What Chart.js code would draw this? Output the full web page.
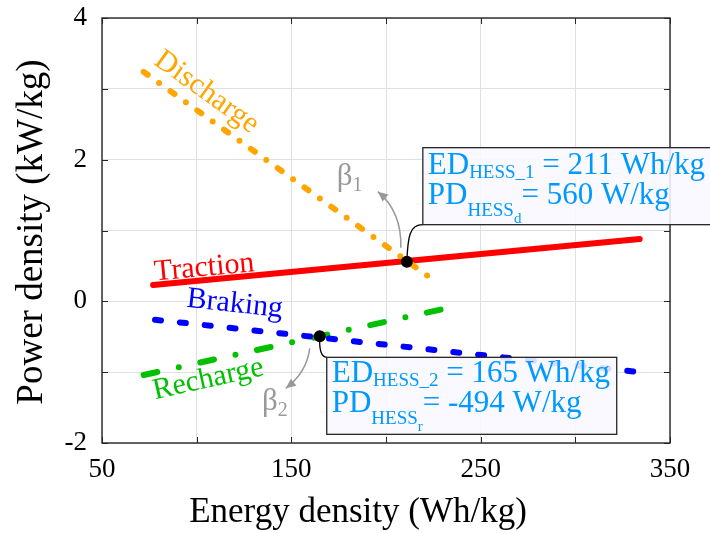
<!DOCTYPE html>
<html>
<head>
<meta charset="utf-8">
<script src="https://cdn.jsdelivr.net/npm/chart.js@4.4.1/dist/chart.umd.min.js"></script>
<style>
  html, body { margin: 0; padding: 0; background: #fff; }
</style>
</head>
<body>
<canvas id="chart" width="710" height="533"></canvas>
<script>
// line end points (x: Wh/kg, y: kW/kg)
const tractionX = [77, 334];
const tractionY = [0.23, 0.88];
const dischargeX = [72, 224];
const dischargeY = [3.24, 0.32];
const brakingX = [78, 334];
const brakingY = [-0.26, -1.0];
const rechargeX = [72, 230];
const rechargeY = [-1.04, -0.11];

// HESS operating points
const opX = [211, 165];
const opY = [0.56, -0.494];

const xTickLabels = [50, 150, 250, 350];
const yTickLabels = [-2, 0, 2, 4];

const SERIF = "'Liberation Serif', 'Times New Roman', serif";
const INK = '#262626';
const NOTE = '#0099ff';
const GREY = '#999999';

function pts(xs, ys) {
    return xs.map((x, i) => ({ x: x, y: ys[i] }));
}

function lineAngle(sx, sy, xs, ys) {
    const dx = sx.getPixelForValue(xs[1]) - sx.getPixelForValue(xs[0]);
    const dy = sy.getPixelForValue(ys[1]) - sy.getPixelForValue(ys[0]);
    return Math.atan2(dy, dx);
}

// text runs with sub/superscripts
function runs(c, x, y, parts) {
    for (const p of parts) {
        c.font = p.s + 'px ' + SERIF;
        c.fillText(p.t, x, y + (p.dy || 0));
        x += c.measureText(p.t).width;
    }
}

function arrow(c, x0, y0, cx, cy, x1, y1) {
    c.beginPath();
    c.moveTo(x0, y0);
    c.quadraticCurveTo(cx, cy, x1, y1);
    c.stroke();
    const ang = Math.atan2(y1 - cy, x1 - cx);
    const len = 10, half = 4.5;
    c.beginPath();
    c.moveTo(x1, y1);
    c.lineTo(x1 - len * Math.cos(ang) + half * Math.sin(ang), y1 - len * Math.sin(ang) - half * Math.cos(ang));
    c.lineTo(x1 - len * Math.cos(ang) - half * Math.sin(ang), y1 - len * Math.sin(ang) + half * Math.cos(ang));
    c.closePath();
    c.fill();
}

const decor = {
    id: 'decor',
    afterDatasetsDraw(chart) {
        const c = chart.ctx;
        const a = chart.chartArea;
        const sx = chart.scales.x, sy = chart.scales.y;
        c.save();

        // box + inward tick marks on all sides
        c.strokeStyle = INK;
        c.lineWidth = 1.4;
        c.strokeRect(a.left, a.top, a.right - a.left, a.bottom - a.top);
        c.lineWidth = 1;
        c.beginPath();
        sx.ticks.forEach(t => {
            const px = Math.round(sx.getPixelForValue(t.value)) + 0.5;
            c.moveTo(px, a.bottom); c.lineTo(px, a.bottom - 6);
            c.moveTo(px, a.top); c.lineTo(px, a.top + 6);
        });
        sy.ticks.forEach(t => {
            const py = Math.round(sy.getPixelForValue(t.value)) + 0.5;
            c.moveTo(a.left, py); c.lineTo(a.left + 6, py);
            c.moveTo(a.right, py); c.lineTo(a.right - 6, py);
        });
        c.stroke();

        // curve names along the lines
        const names = [
            { t: 'Discharge', col: '#ffa500', x: 102.8, y: 2.86, ang: lineAngle(sx, sy, dischargeX, dischargeY) },
            { t: 'Traction', col: '#ff0000', x: 104.4, y: 0.36, ang: lineAngle(sx, sy, tractionX, tractionY) },
            { t: 'Braking', col: '#0000ff', x: 119.7, y: -0.15, ang: lineAngle(sx, sy, brakingX, brakingY) },
            { t: 'Recharge', col: '#00c000', x: 107, y: -1.21, ang: lineAngle(sx, sy, rechargeX, rechargeY) }
        ];
        c.textAlign = 'center';
        c.textBaseline = 'alphabetic';
        c.font = '30px ' + SERIF;
        names.forEach(n => {
            c.save();
            c.translate(sx.getPixelForValue(n.x), sy.getPixelForValue(n.y));
            c.rotate(n.ang);
            c.fillStyle = n.col;
            c.fillText(n.t, 0, 0);
            c.restore();
        });

        const d1 = { x: sx.getPixelForValue(opX[0]), y: sy.getPixelForValue(opY[0]) };
        const d2 = { x: sx.getPixelForValue(opX[1]), y: sy.getPixelForValue(opY[1]) };

        // beta arrows
        c.strokeStyle = GREY;
        c.fillStyle = GREY;
        c.lineWidth = 1.5;
        arrow(c, d1.x - 6, d1.y - 14, d1.x - 5, d1.y - 50, d1.x - 29, d1.y - 70);
        arrow(c, d2.x - 10, d2.y + 12, d2.x - 13, d2.y + 36, d2.x - 34, d2.y + 52);
        c.textAlign = 'left';
        runs(c, sx.getPixelForValue(174), sy.getPixelForValue(1.64), [{ t: 'β', s: 31 }, { t: '1', s: 20, dy: 6 }]);
        runs(c, sx.getPixelForValue(134.5), sy.getPixelForValue(-1.53), [{ t: 'β', s: 31 }, { t: '2', s: 20, dy: 6 }]);

        // note boxes
        const b1 = { l: d1.x + 16, t: d1.y - 114, r: chart.width + 4, b: d1.y - 37 };
        const b2 = { l: d2.x + 7, t: d2.y + 21, r: d2.x + 297, b: d2.y + 98 };

        c.strokeStyle = '#000';
        c.lineWidth = 1.3;
        c.beginPath();
        c.moveTo(d1.x, d1.y);
        c.bezierCurveTo(d1.x + 1, d1.y - 26, d1.x + 3, d1.y - 37, b1.l, b1.b);
        c.moveTo(d2.x, d2.y);
        c.quadraticCurveTo(d2.x - 1, b2.t, b2.l, b2.t);
        c.stroke();

        [b1, b2].forEach(b => {
            c.fillStyle = 'rgba(248,248,255,0.88)';
            c.fillRect(b.l, b.t, b.r - b.l, b.b - b.t);
            c.strokeStyle = INK;
            c.lineWidth = 1.3;
            c.strokeRect(b.l, b.t, b.r - b.l, b.b - b.t);
        });

        c.fillStyle = NOTE;
        const pd1 = Math.round(opY[0] * 1000), pd2 = Math.round(opY[1] * 1000);
        runs(c, b1.l + 5, b1.t + 26, [{ t: 'ED', s: 31 }, { t: 'HESS_1', s: 19, dy: 4 }, { t: ' = ' + opX[0] + ' Wh/kg', s: 31 }]);
        runs(c, b1.l + 5, b1.t + 56, [{ t: 'PD', s: 31 }, { t: 'HESS', s: 19, dy: 12 }, { t: 'd', s: 15, dy: 19 }, { t: '= ' + pd1 + ' W/kg', s: 31 }]);
        runs(c, b2.l + 5, b2.t + 25, [{ t: 'ED', s: 31 }, { t: 'HESS_2', s: 19, dy: 4 }, { t: ' = ' + opX[1] + ' Wh/kg', s: 31 }]);
        runs(c, b2.l + 5, b2.t + 55, [{ t: 'PD', s: 31 }, { t: 'HESS', s: 19, dy: 12 }, { t: 'r', s: 15, dy: 19 }, { t: '= ' + pd2 + ' W/kg', s: 31 }]);

        // dots on top
        c.fillStyle = '#000';
        [d1, d2].forEach(d => { c.beginPath(); c.arc(d.x, d.y, 6, 0, Math.PI * 2); c.fill(); });

        // axis titles
        c.fillStyle = '#000';
        c.textAlign = 'center';
        c.font = '35px ' + SERIF;
        c.fillText('Energy density (Wh/kg)', 358, 522);
        c.save();
        c.translate(42, 232);
        c.rotate(-Math.PI / 2);
        c.font = '37px ' + SERIF;
        c.fillText('Power density (kW/kg)', 0, 0);
        c.restore();

        c.restore();
    }
};

const chart = new Chart(document.getElementById('chart').getContext('2d'), {
    type: 'scatter',
    data: {
        datasets: [
            {
                label: 'Discharge',
                data: pts(dischargeX, dischargeY),
                showLine: true,
                borderColor: '#ffa500',
                borderWidth: 6,
                borderDash: [5, 14, 0, 14],
                borderCapStyle: 'round',
                pointRadius: 0
            },
            {
                label: 'Traction',
                data: pts(tractionX, tractionY),
                showLine: true,
                borderColor: '#ff0000',
                borderWidth: 6,
                borderCapStyle: 'round',
                pointRadius: 0
            },
            {
                label: 'Braking',
                data: pts(brakingX, brakingY),
                showLine: true,
                borderColor: '#0000ff',
                borderWidth: 6,
                borderDash: [6, 19],
                borderCapStyle: 'round',
                pointRadius: 0
            },
            {
                label: 'Recharge',
                data: pts(rechargeX, rechargeY),
                showLine: true,
                borderColor: '#00c000',
                borderWidth: 6,
                borderDash: [14, 22, 0, 22],
                borderCapStyle: 'round',
                pointRadius: 0
            }
        ]
    },
    options: {
        responsive: false,
        animation: false,
        layout: { padding: { left: 0, top: 18, right: 40, bottom: 0 } },
        plugins: {
            legend: { display: false },
            tooltip: { enabled: false }
        },
        scales: {
            x: {
                type: 'linear',
                min: 50,
                max: 350,
                afterFit: (s) => { s.height = 90; s.paddingLeft = 0; s.paddingRight = 0; },
                grid: { color: '#e0e0e0', drawTicks: false },
                border: { display: false },
                ticks: {
                    stepSize: 50,
                    padding: 11,
                    color: '#000',
                    maxRotation: 0,
                    autoSkip: false,
                    font: { family: SERIF, size: 27 },
                    callback: (v) => xTickLabels.includes(v) ? String(v) : ''
                }
            },
            y: {
                type: 'linear',
                min: -2,
                max: 4,
                afterFit: (s) => { s.width = 102; s.paddingTop = 0; s.paddingBottom = 0; },
                grid: { color: '#e0e0e0', drawTicks: false },
                border: { display: false },
                ticks: {
                    stepSize: 1,
                    padding: 15,
                    color: '#000',
                    autoSkip: false,
                    font: { family: SERIF, size: 27 },
                    callback: (v) => yTickLabels.includes(v) ? String(v) : ''
                }
            }
        }
    },
    plugins: [decor]
});
</script>
</body>
</html>
